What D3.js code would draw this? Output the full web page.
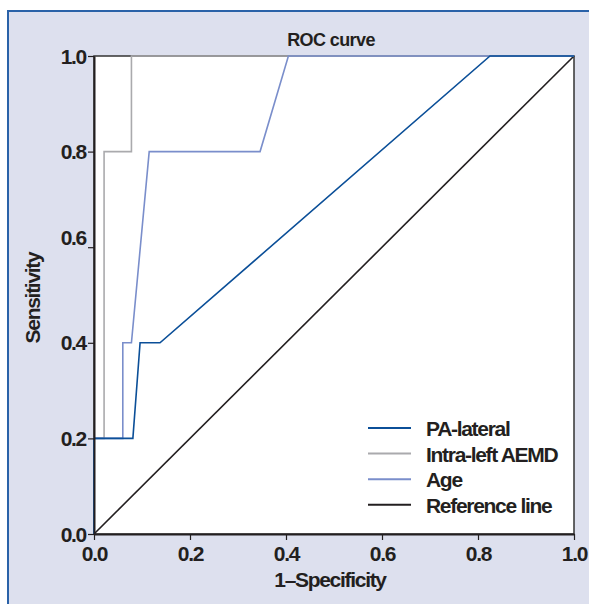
<!DOCTYPE html>
<html>
<head>
<meta charset="utf-8">
<script src="https://cdn.jsdelivr.net/npm/d3@7"></script>
<style>
  body { margin: 0; background: #fff; }
  text { font-family: "Liberation Sans", Arial, sans-serif; font-weight: bold; fill: #231f20; letter-spacing: -1.3px; }
</style>
</head>
<body>
<svg id="chart" width="589" height="604"></svg>
<script>
//Données
const seriesNames = ['PA-lateral', 'Intra-left AEMD', 'Age', 'Reference line']
const seriesColors = ['#0b4f98', '#aaaaad', '#7a8ecb', '#231f20']

const paFpr = [0, 0, 0.081, 0.096, 0.1375, 0.825, 1.0]
const paTpr = [0, 0.2, 0.2, 0.4, 0.4, 1.0, 1.0]

const aemdFpr = [0, 0, 0.021, 0.021, 0.078, 0.078, 1.0]
const aemdTpr = [0, 0.2, 0.2, 0.8, 0.8, 1.0, 1.0]

const ageFpr = [0, 0, 0.06, 0.06, 0.078, 0.115, 0.346, 0.405, 1.0]
const ageTpr = [0, 0.2, 0.2, 0.4, 0.4, 0.8, 0.8, 1.0, 1.0]

const refFpr = [0, 1]
const refTpr = [0, 1]

const tickValues = [0, 0.2, 0.4, 0.6, 0.8, 1.0]

//Dimensions
const plotLeft = 94, plotRight = 574, plotTop = 56, plotBottom = 534

const svg = d3.select('#chart')

//Cadre de fond
svg.append('rect').attr('x', 8).attr('y', 11).attr('width', 600).attr('height', 610)
  .attr('fill', '#dde0ee').attr('stroke', '#2a62a8').attr('stroke-width', 2)

const x = d3.scaleLinear().domain([0, 1]).range([plotLeft, plotRight])
const y = d3.scaleLinear().domain([0, 1]).range([plotBottom, plotTop])

//Zone du graphique
svg.append('rect').attr('x', plotLeft).attr('y', plotTop)
  .attr('width', plotRight - plotLeft).attr('height', plotBottom - plotTop)
  .attr('fill', '#fff').attr('stroke', '#333').attr('stroke-width', 1.5)

//Courbes
const curves = [
  [paFpr, paTpr],
  [aemdFpr, aemdTpr],
  [ageFpr, ageTpr],
  [refFpr, refTpr]
]
const line = d3.line().x(d => x(d[0])).y(d => y(d[1]))
const drawOrder = [3, 1, 2, 0]
drawOrder.forEach(function (i) {
  const pts = d3.zip(curves[i][0], curves[i][1])
  svg.append('path').attr('d', line(pts))
    .attr('fill', 'none').attr('stroke', seriesColors[i]).attr('stroke-width', 1.6)
})

//Axes
const xAxis = svg.append('g').attr('transform', 'translate(0,' + plotBottom + ')')
  .call(d3.axisBottom(x).tickValues(tickValues).tickFormat(d3.format('.1f')).tickSize(6).tickSizeOuter(0))
const yAxis = svg.append('g').attr('transform', 'translate(' + plotLeft + ',0)')
  .call(d3.axisLeft(y).tickValues(tickValues).tickFormat(d3.format('.1f')).tickSize(6).tickSizeOuter(0))

;[xAxis, yAxis].forEach(function (g) {
  g.selectAll('.domain').attr('stroke', '#231f20').attr('stroke-width', 2)
  g.selectAll('.tick line').attr('stroke', '#231f20').attr('stroke-width', 1.2)
  g.selectAll('.tick text').attr('font-size', 21).attr('font-family', null).attr('fill', '#231f20')
})
xAxis.selectAll('.tick text').attr('y', 12)
yAxis.selectAll('.tick text').attr('x', -8)
  .attr('dy', d => d === 0.6 ? '-0.15em' : '0.34em')

//Titres
svg.append('text').attr('x', (plotLeft + plotRight) / 2 - 3).attr('y', 46).attr('text-anchor', 'middle')
  .attr('font-size', 18).style('letter-spacing', '-0.6px').text('ROC curve')
svg.append('text').attr('x', (plotLeft + plotRight) / 2 - 4).attr('y', 587).attr('text-anchor', 'middle')
  .attr('font-size', 21).text('1\u2013Specificity')
svg.append('text').attr('transform', 'translate(40,' + ((plotTop + plotBottom) / 2 + 3) + ') rotate(-90)')
  .attr('text-anchor', 'middle').attr('font-size', 21).text('Sensitivity')

//Légende
const legend = svg.append('g').attr('transform', 'translate(368,428)')
seriesNames.forEach(function (name, i) {
  const row = legend.append('g').attr('transform', 'translate(0,' + (i * 25.6) + ')')
  row.append('line').attr('x1', 0).attr('x2', 43).attr('y1', 0).attr('y2', 0)
    .attr('stroke', seriesColors[i]).attr('stroke-width', 2)
  row.append('text').attr('x', 58).attr('y', 8).attr('font-size', 21).text(name)
})
</script>
</body>
</html>
